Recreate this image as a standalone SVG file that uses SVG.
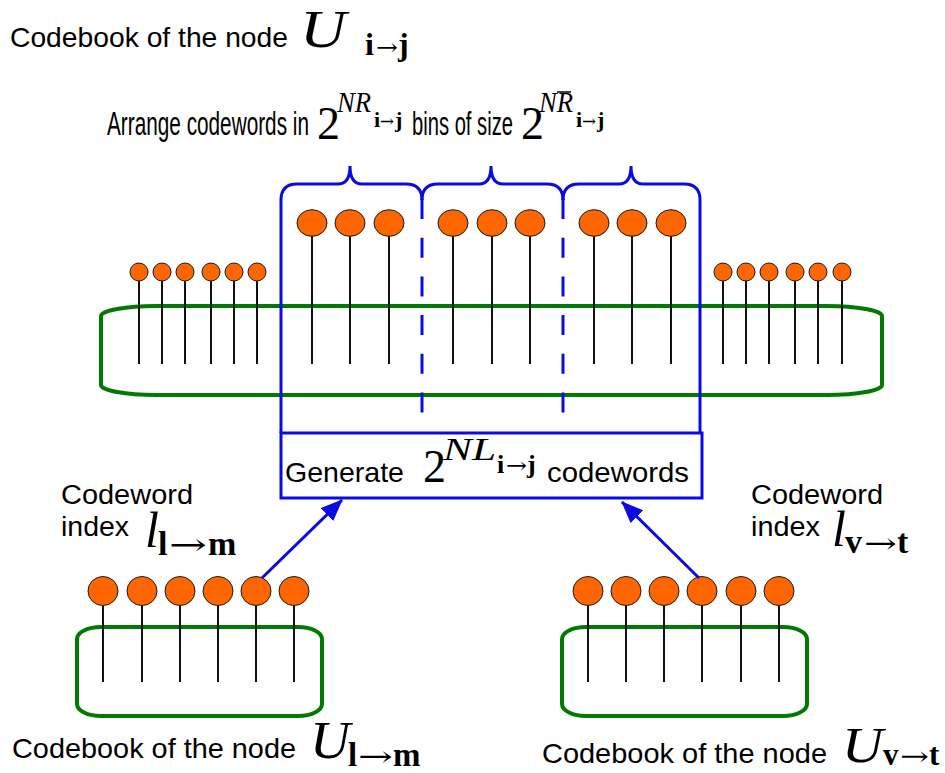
<svg xmlns="http://www.w3.org/2000/svg" width="945" height="773" viewBox="0 0 945 773">
  <defs>
    <style>
      .sans { font-family: "Liberation Sans", Arial, sans-serif; fill: #000; }
      .math { font-family: "Liberation Serif", "Times New Roman", serif; fill: #000; }
      .it { font-style: italic; }
      .bd { font-weight: bold; }
      .arr { font-family: "DejaVu Serif", "DejaVu Sans", serif; font-weight: normal; font-style: normal; }
      .ball { fill: #ff6600; stroke: #1a1a1a; stroke-width: 1; }
      .stem { stroke: #111; stroke-width: 2; fill: none; }
      .book { fill: none; stroke: #007a00; stroke-width: 4; }
      .blue { fill: none; stroke: #0a0ae6; stroke-width: 3; }
      .dash { fill: none; stroke: #0a0ae6; stroke-width: 3; stroke-dasharray: 20 18.7; }
      .link { fill: none; stroke: #0a0ae6; stroke-width: 3; }
    </style>
    <marker id="head" markerUnits="userSpaceOnUse" markerWidth="24" markerHeight="20" refX="21" refY="9" orient="auto">
      <path d="M0,0 L22,9 L0,18 Z" fill="#0a0ae6"/>
    </marker>
  </defs>

  <rect width="945" height="773" fill="#fff"/>

  <!-- title of the shared codebook -->
  <g id="title">
    <text class="sans" x="10" y="47" font-size="28" textLength="278" lengthAdjust="spacingAndGlyphs">Codebook of the node</text>
    <text class="math" y="47"><tspan class="it" x="300" font-size="53" textLength="46" lengthAdjust="spacingAndGlyphs">U</tspan><tspan class="bd" x="365" y="55" font-size="32">i</tspan><tspan class="arr" x="376" y="55" font-size="23" textLength="22" lengthAdjust="spacingAndGlyphs">→</tspan><tspan class="bd" x="398" y="55" font-size="32">j</tspan></text>
  </g>

  <!-- binning caption (condensed sans) -->
  <g id="bins-caption">
    <text class="sans" transform="translate(107 135) scale(0.63 1)" x="0" y="0" font-size="33" textLength="320.6" lengthAdjust="spacingAndGlyphs">Arrange codewords in</text>
    <text class="math" y="139"><tspan x="317" font-size="46">2</tspan><tspan class="it" x="337" y="112" font-size="29" textLength="34" lengthAdjust="spacingAndGlyphs">NR</tspan><tspan class="bd" x="374" y="127" font-size="22">i</tspan><tspan class="arr" x="380" y="127" font-size="17" textLength="14" lengthAdjust="spacingAndGlyphs">→</tspan><tspan class="bd" x="395" y="127" font-size="22">j</tspan></text>
    <text class="sans" transform="translate(412 135) scale(0.62 1)" x="0" y="0" font-size="33" textLength="162.9" lengthAdjust="spacingAndGlyphs">bins of size</text>
    <text class="math" y="139"><tspan x="521" font-size="46">2</tspan><tspan class="it" x="539" y="112" font-size="29" textLength="34" lengthAdjust="spacingAndGlyphs">NR</tspan><tspan class="bd" x="576" y="127" font-size="22">i</tspan><tspan class="arr" x="582" y="127" font-size="17" textLength="14" lengthAdjust="spacingAndGlyphs">→</tspan><tspan class="bd" x="597" y="127" font-size="22">j</tspan></text>
    <line x1="557" y1="92" x2="571" y2="92" stroke="#000" stroke-width="1.5"/>
  </g>

  <!-- main codebook U(i->j) -->
  <g id="codebook-main">
    <rect class="book" x="101" y="306" width="781" height="89" rx="55" ry="10"/>
    <g id="left-words">
      <line class="stem" x1="139" y1="281" x2="139" y2="364"/>
      <line class="stem" x1="162" y1="281" x2="162" y2="364"/>
      <line class="stem" x1="185" y1="281" x2="185" y2="364"/>
      <line class="stem" x1="211" y1="281" x2="211" y2="364"/>
      <line class="stem" x1="234" y1="281" x2="234" y2="364"/>
      <line class="stem" x1="257" y1="281" x2="257" y2="364"/>
      <circle class="ball" cx="139" cy="272" r="9"/>
      <circle class="ball" cx="162" cy="272" r="9"/>
      <circle class="ball" cx="185" cy="272" r="9"/>
      <circle class="ball" cx="211" cy="272" r="9"/>
      <circle class="ball" cx="234" cy="272" r="9"/>
      <circle class="ball" cx="257" cy="272" r="9"/>
    </g>
    <g id="right-words">
      <line class="stem" x1="723" y1="281" x2="723" y2="364"/>
      <line class="stem" x1="746" y1="281" x2="746" y2="364"/>
      <line class="stem" x1="769" y1="281" x2="769" y2="364"/>
      <line class="stem" x1="795" y1="281" x2="795" y2="364"/>
      <line class="stem" x1="818" y1="281" x2="818" y2="364"/>
      <line class="stem" x1="842" y1="281" x2="842" y2="364"/>
      <circle class="ball" cx="723" cy="272" r="9"/>
      <circle class="ball" cx="746" cy="272" r="9"/>
      <circle class="ball" cx="769" cy="272" r="9"/>
      <circle class="ball" cx="795" cy="272" r="9"/>
      <circle class="ball" cx="818" cy="272" r="9"/>
      <circle class="ball" cx="842" cy="272" r="9"/>
    </g>
    <g id="bin-words">
      <line class="stem" x1="312" y1="236" x2="312" y2="364"/>
      <line class="stem" x1="350" y1="236" x2="350" y2="364"/>
      <line class="stem" x1="389" y1="236" x2="389" y2="364"/>
      <line class="stem" x1="453" y1="236" x2="453" y2="364"/>
      <line class="stem" x1="492" y1="236" x2="492" y2="364"/>
      <line class="stem" x1="530" y1="236" x2="530" y2="364"/>
      <line class="stem" x1="594" y1="236" x2="594" y2="364"/>
      <line class="stem" x1="632" y1="236" x2="632" y2="364"/>
      <line class="stem" x1="671" y1="236" x2="671" y2="364"/>
      <ellipse class="ball" cx="312" cy="223" rx="15" ry="13.3"/>
      <ellipse class="ball" cx="350" cy="223" rx="15" ry="13.3"/>
      <ellipse class="ball" cx="389" cy="223" rx="15" ry="13.3"/>
      <ellipse class="ball" cx="453" cy="223" rx="15" ry="13.3"/>
      <ellipse class="ball" cx="492" cy="223" rx="15" ry="13.3"/>
      <ellipse class="ball" cx="530" cy="223" rx="15" ry="13.3"/>
      <ellipse class="ball" cx="594" cy="223" rx="15" ry="13.3"/>
      <ellipse class="ball" cx="632" cy="223" rx="15" ry="13.3"/>
      <ellipse class="ball" cx="671" cy="223" rx="15" ry="13.3"/>
    </g>
  </g>

  <!-- bins: braces, separators and the outer walls down to the generator -->
  <g id="bins">
    <path class="blue" d="M281,433 L281,200 Q281,184 297,184 L338,184 Q350,184 350,166 Q350,184 362,184 L406,184 Q422,184 422,200"/>
    <path class="blue" d="M422,200 Q422,184 438,184 L479,184 Q491,184 491,166 Q491,184 503,184 L547,184 Q563,184 563,200"/>
    <path class="blue" d="M563,200 Q563,184 579,184 L619,184 Q631,184 631,166 Q631,184 643,184 L684,184 Q700,184 700,200 L700,433"/>
    <path class="dash" d="M422,199 L422,413"/>
    <path class="dash" d="M563,199 L563,413"/>
  </g>

  <!-- generator box -->
  <g id="generate">
    <rect class="blue" x="281" y="433" width="421" height="65"/>
    <text class="sans" x="285" y="482" font-size="28" textLength="119" lengthAdjust="spacingAndGlyphs">Generate</text>
    <text class="math" y="482"><tspan x="423" font-size="46">2</tspan><tspan class="it" x="443" y="460" font-size="31" textLength="53" lengthAdjust="spacingAndGlyphs">NL</tspan><tspan class="bd" x="497" y="473" font-size="26">i</tspan><tspan class="arr" x="506" y="473" font-size="22" textLength="21" lengthAdjust="spacingAndGlyphs">→</tspan><tspan class="bd" x="527" y="473" font-size="26">j</tspan></text>
    <text class="sans" x="547" y="482" font-size="28" textLength="142" lengthAdjust="spacingAndGlyphs">codewords</text>
  </g>

  <!-- codebook U(l->m) -->
  <g id="codebook-lm">
    <text class="sans" x="61" y="504" font-size="27" textLength="132" lengthAdjust="spacingAndGlyphs">Codeword</text>
    <text class="sans" x="61" y="536" font-size="27" textLength="68" lengthAdjust="spacingAndGlyphs">index</text>
    <text class="math" y="547"><tspan class="it" x="145" font-size="50">l</tspan><tspan class="bd" x="158" y="555" font-size="34">l</tspan><tspan class="arr" x="169" y="555" font-size="30" textLength="38" lengthAdjust="spacingAndGlyphs">→</tspan><tspan class="bd" x="208" y="555" font-size="34">m</tspan></text>
    <rect class="book" x="77" y="627" width="245" height="89" rx="24" ry="12"/>
    <line class="stem" x1="103" y1="606" x2="103" y2="682"/>
    <line class="stem" x1="142" y1="606" x2="142" y2="682"/>
    <line class="stem" x1="180" y1="606" x2="180" y2="682"/>
    <line class="stem" x1="218" y1="606" x2="218" y2="682"/>
    <line class="stem" x1="256" y1="606" x2="256" y2="682"/>
    <line class="stem" x1="294" y1="606" x2="294" y2="682"/>
    <ellipse class="ball" cx="103" cy="591" rx="15" ry="14.5"/>
    <ellipse class="ball" cx="142" cy="591" rx="15" ry="14.5"/>
    <ellipse class="ball" cx="180" cy="591" rx="15" ry="14.5"/>
    <ellipse class="ball" cx="218" cy="591" rx="15" ry="14.5"/>
    <ellipse class="ball" cx="256" cy="591" rx="15" ry="14.5"/>
    <ellipse class="ball" cx="294" cy="591" rx="15" ry="14.5"/>
    <text class="sans" x="12" y="758" font-size="28" textLength="284" lengthAdjust="spacingAndGlyphs">Codebook of the node</text>
    <text class="math" y="758"><tspan class="it" x="310" font-size="52" textLength="40" lengthAdjust="spacingAndGlyphs">U</tspan><tspan class="bd" x="348" y="766" font-size="33">l</tspan><tspan class="arr" x="358" y="766" font-size="28" textLength="35" lengthAdjust="spacingAndGlyphs">→</tspan><tspan class="bd" x="393" y="766" font-size="33">m</tspan></text>
  </g>

  <!-- codebook U(v->t) -->
  <g id="codebook-vt">
    <text class="sans" x="751" y="504" font-size="27" textLength="132" lengthAdjust="spacingAndGlyphs">Codeword</text>
    <text class="sans" x="751" y="536" font-size="27" textLength="69" lengthAdjust="spacingAndGlyphs">index</text>
    <text class="math" y="546"><tspan class="it" x="832" font-size="50">l</tspan><tspan class="bd" x="845" y="553" font-size="34">v</tspan><tspan class="arr" x="864" y="553" font-size="28" textLength="33" lengthAdjust="spacingAndGlyphs">→</tspan><tspan class="bd" x="897" y="553" font-size="34">t</tspan></text>
    <rect class="book" x="562" y="627" width="245" height="89" rx="24" ry="12"/>
    <line class="stem" x1="588" y1="606" x2="588" y2="682"/>
    <line class="stem" x1="626" y1="606" x2="626" y2="682"/>
    <line class="stem" x1="664" y1="606" x2="664" y2="682"/>
    <line class="stem" x1="702" y1="606" x2="702" y2="682"/>
    <line class="stem" x1="741" y1="606" x2="741" y2="682"/>
    <line class="stem" x1="779" y1="606" x2="779" y2="682"/>
    <ellipse class="ball" cx="588" cy="591" rx="15" ry="14.5"/>
    <ellipse class="ball" cx="626" cy="591" rx="15" ry="14.5"/>
    <ellipse class="ball" cx="664" cy="591" rx="15" ry="14.5"/>
    <ellipse class="ball" cx="702" cy="591" rx="15" ry="14.5"/>
    <ellipse class="ball" cx="741" cy="591" rx="15" ry="14.5"/>
    <ellipse class="ball" cx="779" cy="591" rx="15" ry="14.5"/>
    <text class="sans" x="542" y="763" font-size="28" textLength="285" lengthAdjust="spacingAndGlyphs">Codebook of the node</text>
    <text class="math" y="762"><tspan class="it" x="842" font-size="50" textLength="41" lengthAdjust="spacingAndGlyphs">U</tspan><tspan class="bd" x="883" y="765" font-size="31">v</tspan><tspan class="arr" x="900" y="765" font-size="26" textLength="29" lengthAdjust="spacingAndGlyphs">→</tspan><tspan class="bd" x="929" y="765" font-size="31">t</tspan></text>
  </g>

  <!-- selected codewords feeding the generator -->
  <g id="connectors">
    <line class="link" x1="262" y1="578" x2="342" y2="500" marker-end="url(#head)"/>
    <line class="link" x1="699" y1="578" x2="622" y2="502" marker-end="url(#head)"/>
  </g>
</svg>
